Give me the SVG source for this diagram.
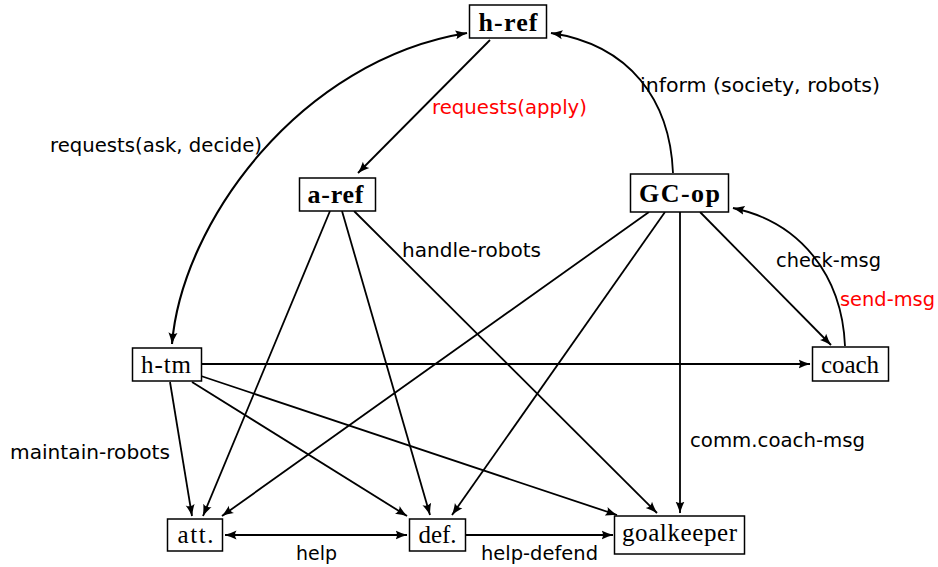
<svg xmlns="http://www.w3.org/2000/svg" width="938" height="567" viewBox="0 0 938 567">
<style>
.box{fill:#fff;stroke:#000;stroke-width:1.5}
.nt{font-family:"Liberation Serif","DejaVu Serif",serif;font-size:25px;text-anchor:middle;fill:#000}
.b{font-weight:bold;font-size:26px}
.e{fill:none;stroke:#000;stroke-width:1.8;marker-end:url(#ah)}
.bi{marker-start:url(#ah)}
.lb{font-family:"DejaVu Sans","Liberation Sans",sans-serif;font-size:19px;fill:#000}
.red{fill:#ff0000}
</style>
<defs>
<marker id="ah" viewBox="0 0 12 10" refX="11.5" refY="5" markerWidth="12" markerHeight="10" markerUnits="userSpaceOnUse" orient="auto-start-reverse">
<path d="M0,0.5 Q6,3.5 12,5 Q6,6.5 0,9.5 Q3,5 0,0.5 Z" fill="#000"/>
</marker>
</defs>
<g id="connectors">
<path class="e bi" d="M172,344 C182,222 300,60 467,33" style="stroke-width:2.1"/>
<path class="e" d="M490,40 L358,173"/>
<path class="e" d="M673,173 C670,100 630,45 551,33"/>
<path class="e" d="M845,346 C842,275 800,222 733,208"/>
<path class="e" d="M700,212 L831,345"/>
<path class="e" d="M649,212 L222,516"/>
<path class="e" d="M665,212 L452,515"/>
<path class="e" d="M680,212 L680,513"/>
<path class="e" d="M330,211 L203,516"/>
<path class="e" d="M342,211 L430,515"/>
<path class="e" d="M354,211 L657,513"/>
<path class="e" d="M202,364 L810,364"/>
<path class="e" d="M170,382 L192,516"/>
<path class="e" d="M192,382 L407,516"/>
<path class="e" d="M201,376 L617,515"/>
<path class="e bi" d="M225,535 L407,535"/>
<path class="e" d="M466,535 L613,535"/>
</g>
<g id="labels">
<text class="lb" x="50" y="152" textLength="212" lengthAdjust="spacingAndGlyphs">requests(ask, decide)</text>
<text class="lb red" x="432" y="114" textLength="155" lengthAdjust="spacingAndGlyphs">requests(apply)</text>
<text class="lb" x="640" y="92" textLength="240" lengthAdjust="spacingAndGlyphs">inform (society, robots)</text>
<text class="lb" x="402" y="257" textLength="139" lengthAdjust="spacingAndGlyphs">handle-robots</text>
<text class="lb" x="776" y="267" textLength="105" lengthAdjust="spacingAndGlyphs">check-msg</text>
<text class="lb red" x="840" y="306" textLength="95" lengthAdjust="spacingAndGlyphs">send-msg</text>
<text class="lb" x="690" y="447" textLength="175" lengthAdjust="spacingAndGlyphs">comm.coach-msg</text>
<text class="lb" x="10" y="459" textLength="160" lengthAdjust="spacingAndGlyphs">maintain-robots</text>
<text class="lb" x="296" y="560" textLength="41" lengthAdjust="spacingAndGlyphs">help</text>
<text class="lb" x="481" y="560" textLength="117" lengthAdjust="spacingAndGlyphs">help-defend</text>
</g>
<g id="h-ref"><rect class="box" x="469.5" y="5" width="77" height="33"/><text class="nt b" x="508" y="30.5" textLength="59" lengthAdjust="spacing">h-ref</text></g>
<g id="a-ref"><rect class="box" x="299.5" y="178" width="76" height="33"/><text class="nt b" x="335.5" y="203" textLength="56" lengthAdjust="spacing">a-ref</text></g>
<g id="GC-op"><rect class="box" x="630.5" y="174" width="98" height="38"/><text class="nt b" x="679.5" y="202" textLength="81" lengthAdjust="spacing">GC-op</text></g>
<g id="h-tm"><rect class="box" x="132.5" y="348" width="69" height="33"/><text class="nt" x="166" y="373" textLength="50" lengthAdjust="spacing">h-tm</text></g>
<g id="coach"><rect class="box" x="812.5" y="347" width="76" height="34"/><text class="nt" x="850" y="373" textLength="58" lengthAdjust="spacing">coach</text></g>
<g id="att"><rect class="box" x="167.5" y="519" width="55" height="32"/><text class="nt" x="195.5" y="543" textLength="36" lengthAdjust="spacing">att.</text></g>
<g id="def"><rect class="box" x="409.5" y="519" width="56" height="32"/><text class="nt" x="437.5" y="543" textLength="38" lengthAdjust="spacing">def.</text></g>
<g id="goalkeeper"><rect class="box" x="614.5" y="516" width="130" height="38"/><text class="nt" x="679.5" y="541" textLength="115" lengthAdjust="spacing">goalkeeper</text></g>
</svg>
